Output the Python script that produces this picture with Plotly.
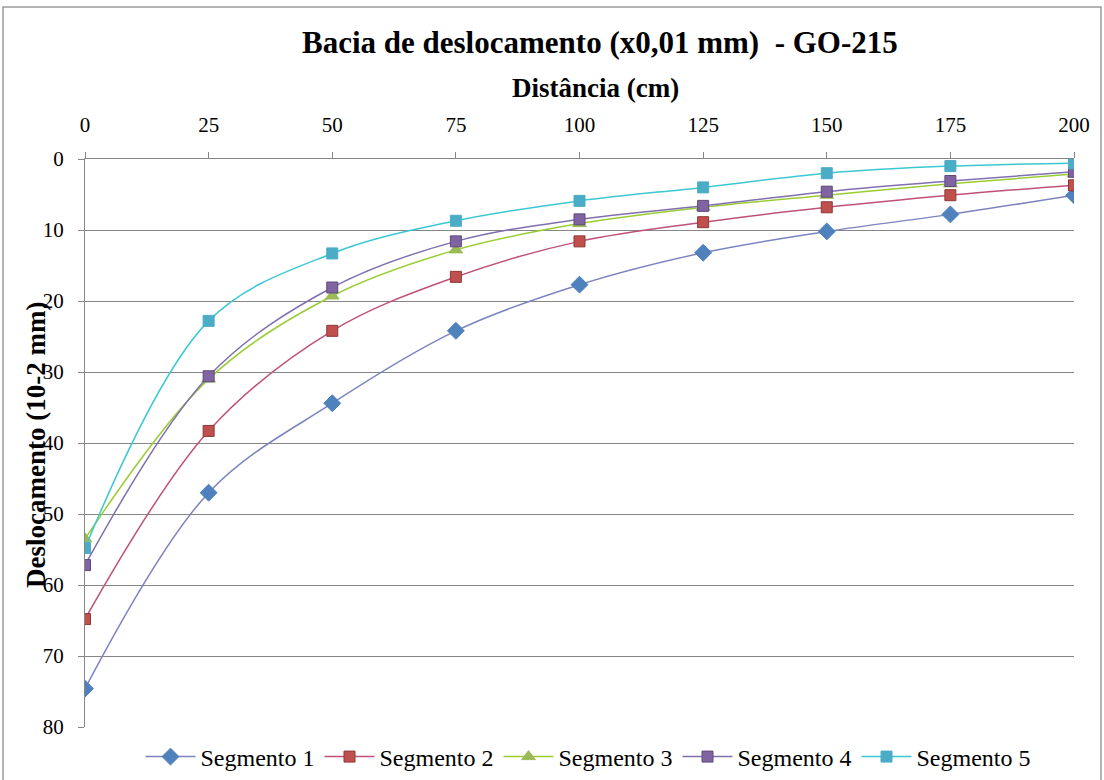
import plotly.graph_objects as go

distancia = [0, 25, 50, 75, 100, 125, 150, 175, 200]
seg1 = [74.6, 47.0, 34.4, 24.2, 17.7, 13.2, 10.2, 7.8, 5.1]
seg2 = [64.8, 38.3, 24.2, 16.6, 11.6, 8.9, 6.8, 5.1, 3.7]
seg3 = [53.5, 31.0, 19.3, 12.8, 9.1, 6.8, 5.1, 3.5, 2.1]
seg4 = [57.2, 30.6, 18.1, 11.6, 8.5, 6.6, 4.6, 3.1, 1.8]
seg5 = [54.8, 22.8, 13.3, 8.7, 5.9, 4.0, 2.0, 1.0, 0.6]
nomes = ["Segmento 1", "Segmento 2", "Segmento 3", "Segmento 4", "Segmento 5"]
yticks = [0, 10, 20, 30, 40, 50, 60, 70, 80]

series = [seg1, seg2, seg3, seg4, seg5]
line_cols = ["#7c84c0", "#c0507a", "#9acd32", "#8070b0", "#3cc8d2"]
mk_cols = ["#4f81bd", "#c0504d", "#9bbb59", "#8064a2", "#4bacc6"]
mk_line = ["#4f81bd", "#8c3836", "#9bbb59", "#5e4a7a", "#4bacc6"]
symbols = ["diamond", "square", "triangle-up", "square", "square"]
sizes = [13, 11, 12, 11, 11]

FONT = "Liberation Serif, Times New Roman, serif"
fig = go.Figure()
for s, n, lc, mc, ml, sym, sz in zip(series, nomes, line_cols, mk_cols, mk_line, symbols, sizes):
    fig.add_trace(go.Scatter(
        x=distancia, y=s, name=n, mode="lines+markers",
        line=dict(color=lc, width=1.5, shape="spline", smoothing=1.0),
        marker=dict(symbol=sym, size=sz, color=mc, line=dict(color=ml, width=1)),
    ))

L, R, T, B = 85, 30, 159, 53
W, H = 1104, 780
pw, ph = W - L - R, H - T - B

def px_x(p):
    return (p - L) / pw

def px_y(p):
    return (H - B - p) / ph

fig.update_layout(
    width=W, height=H,
    margin=dict(l=L, r=R, t=T, b=B, autoexpand=False),
    paper_bgcolor="white", plot_bgcolor="white",
    font=dict(family=FONT, size=21, color="black"),
    showlegend=True,
    legend=dict(orientation="h", xref="container", yref="container",
                x=588 / W, xanchor="center", y=(H - 757) / H, yanchor="middle",
                font=dict(family=FONT, size=24), itemwidth=50, tracegroupgap=0,
                bgcolor="rgba(0,0,0,0)"),
    xaxis=dict(side="top", range=[0, 200], tickvals=distancia, ticks="outside", ticklen=6,
               tickcolor="#868686", showline=True, linecolor="#868686", linewidth=1,
               showgrid=False, zeroline=False, ticklabelstandoff=12,
               tickfont=dict(family=FONT, size=21)),
    yaxis=dict(autorange=False, range=[80, 0], tickvals=yticks, ticks="outside", ticklen=6,
               tickcolor="#868686", showline=True, linecolor="#868686", linewidth=1,
               showgrid=True, gridcolor="#868686", gridwidth=1, zeroline=False,
               ticklabelstandoff=10, tickfont=dict(family=FONT, size=21)),
    annotations=[
        dict(text="<b>Bacia de deslocamento (x0,01 mm)  - GO-215</b>", xref="paper", yref="paper",
             x=px_x(600), y=px_y(42), xanchor="center", yanchor="middle", showarrow=False,
             font=dict(family=FONT, size=31)),
        dict(text="<b>Distância (cm)</b>", xref="paper", yref="paper",
             x=px_x(595), y=px_y(88), xanchor="center", yanchor="middle", showarrow=False,
             font=dict(family=FONT, size=27)),
        dict(text="<b>Deslocamento (10-2 mm)</b>", xref="paper", yref="paper",
             x=px_x(36), y=px_y(445), xanchor="center", yanchor="middle", showarrow=False,
             textangle=-90, font=dict(family=FONT, size=27)),
    ],
    shapes=[
        dict(type="rect", xref="paper", yref="paper", x0=px_x(3), x1=px_x(1101),
             y0=px_y(800), y1=px_y(7), line=dict(color="#9a9a9a", width=1.5), layer="below"),
    ],
)

fig.write_html("out.html")
